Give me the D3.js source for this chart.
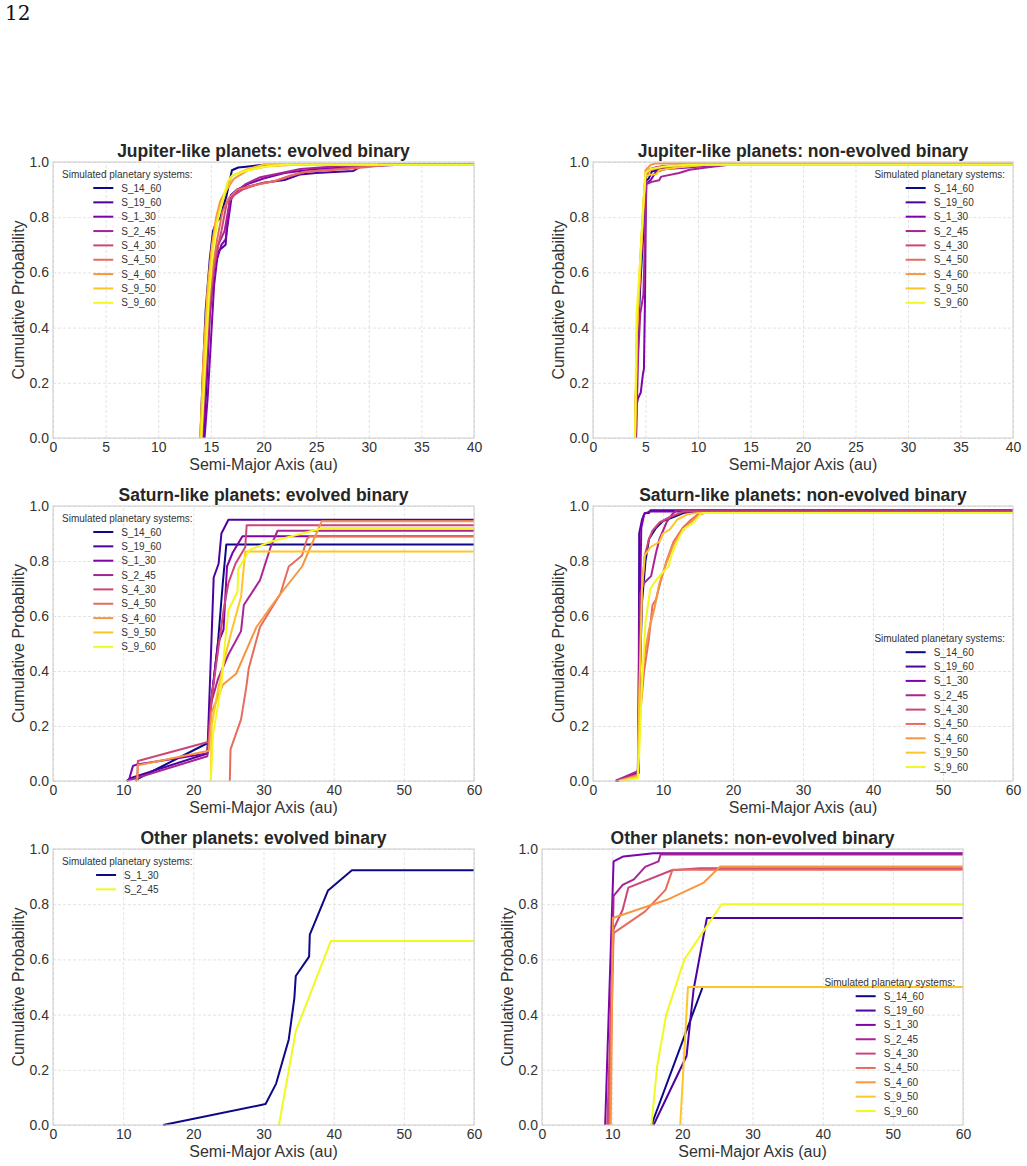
<!DOCTYPE html>
<html>
<head>
<meta charset="utf-8">
<style>
  body { margin: 0; background: #fff; }
  svg { display: block; font-family: 'Liberation Sans', Arial, sans-serif; }
  .tick text { font-size: 14px; fill: #333; }
  .grid .tick line { stroke: #dcdcdc; stroke-width: 0.8; stroke-dasharray: 3,2; }
  .title { font-size: 17.5px; font-weight: bold; fill: #262626; }
  .axis-label { font-size: 16px; fill: #333; }
  .legend text { font-size: 10px; fill: #333; }
  .pagenum { font-family: 'DejaVu Serif', 'Liberation Serif', serif; font-size: 20px; fill: #111; }
</style>
<title>Cumulative semi-major axis distributions</title>
</head>
<body>
<svg width="1027" height="1166"></svg>
<script src="https://cdnjs.cloudflare.com/ajax/libs/d3/7.8.5/d3.min.js"></script>
<script>
// simulated systems (legend order)
let systems = ["S_14_60", "S_19_60", "S_1_30", "S_2_45", "S_4_30", "S_4_50", "S_4_60", "S_9_50", "S_9_60"];
let otherEvolvedSystems = ["S_1_30", "S_2_45"];

let xTicks40 = [0, 5, 10, 15, 20, 25, 30, 35, 40];
let xTicks60 = [0, 10, 20, 30, 40, 50, 60];
let yTicks = [0, 0.2, 0.4, 0.6, 0.8, 1.0];

// [semi-major axis (au), cumulative probability], one list per system
let jupiterEvolved = [
  [[14.0,0],[14.2,0.2],[14.5,0.46],[14.9,0.65],[15.2,0.75],[15.5,0.78],[15.9,0.8],[16.5,0.88],[17.0,0.97],[17.6,0.98],[18.8,0.985],[20,0.99],[40,0.99]],
  [[14.3,0],[14.6,0.2],[14.9,0.45],[15.3,0.62],[15.8,0.68],[16.4,0.7],[16.6,0.8],[16.9,0.88],[17.5,0.9],[18.5,0.91],[20,0.925],[22,0.935],[23.5,0.955],[25,0.96],[28.5,0.967],[29.3,0.985],[31,0.99],[40,0.99]],
  [[14.4,0],[14.7,0.15],[15.0,0.35],[15.3,0.55],[15.6,0.65],[16.0,0.7],[16.4,0.72],[16.7,0.8],[17.0,0.88],[17.5,0.9],[18.5,0.92],[20,0.94],[22,0.96],[25,0.975],[30,0.985],[33,0.99],[40,0.99]],
  [[14.2,0],[14.5,0.2],[14.9,0.45],[15.3,0.62],[15.7,0.7],[16.3,0.75],[16.8,0.86],[17.4,0.89],[17.7,0.9],[18.3,0.92],[19.7,0.945],[21.7,0.96],[23.5,0.975],[27,0.985],[32,0.99],[40,0.99]],
  [[14.1,0],[14.4,0.2],[14.8,0.45],[15.2,0.6],[15.6,0.68],[16.0,0.75],[16.5,0.85],[17.2,0.88],[18.0,0.9],[19.5,0.92],[21,0.93],[23,0.955],[24,0.965],[27,0.975],[31,0.99],[40,0.99]],
  [[14.1,0],[14.4,0.25],[14.8,0.48],[15.2,0.62],[15.6,0.72],[16.1,0.82],[16.7,0.87],[17.5,0.9],[19,0.915],[21,0.93],[22.5,0.95],[24,0.965],[28,0.975],[32,0.99],[40,0.99]],
  [[14.0,0],[14.3,0.3],[14.7,0.55],[15.1,0.7],[15.5,0.8],[15.9,0.86],[16.5,0.9],[17.2,0.94],[18.5,0.97],[20.5,0.985],[23,0.99],[40,0.99]],
  [[14.0,0],[14.3,0.25],[14.7,0.52],[15.1,0.68],[15.5,0.78],[16.0,0.85],[16.5,0.9],[17.0,0.95],[18.5,0.975],[20,0.99],[40,0.99]],
  [[14.1,0],[14.4,0.22],[14.8,0.5],[15.2,0.68],[15.6,0.78],[16.1,0.86],[16.6,0.93],[17.0,0.95],[18.5,0.97],[20.5,0.985],[22,0.99],[40,0.99]]
];

let jupiterNonEvolved = [
  [[4.0,0],[4.2,0.3],[4.5,0.55],[4.8,0.75],[5.0,0.93],[5.3,0.94],[5.6,0.965],[6.5,0.975],[8,0.985],[10,0.99],[40,0.99]],
  [[4.0,0],[4.2,0.35],[4.5,0.6],[4.8,0.8],[5.0,0.94],[5.3,0.97],[6,0.98],[8,0.985],[10,0.99],[40,0.99]],
  [[4.1,0],[4.15,0.12],[4.3,0.145],[4.55,0.165],[4.75,0.23],[4.85,0.25],[4.95,0.5],[5.05,0.92],[5.5,0.935],[6.0,0.965],[7,0.975],[9,0.98],[12,0.99],[40,0.99]],
  [[4.1,0],[4.3,0.3],[4.5,0.45],[4.8,0.52],[5.0,0.8],[5.1,0.92],[5.6,0.928],[6.3,0.934],[6.5,0.947],[8.2,0.96],[9.2,0.972],[10.8,0.98],[13,0.99],[40,0.99]],
  [[4.0,0],[4.2,0.4],[4.5,0.62],[4.8,0.82],[5.0,0.95],[5.4,0.975],[6.5,0.985],[9,0.99],[40,0.99]],
  [[4.0,0],[4.2,0.38],[4.5,0.6],[4.8,0.82],[5.0,0.95],[5.4,0.97],[6.5,0.98],[9,0.99],[40,0.99]],
  [[4.0,0],[4.2,0.4],[4.5,0.65],[4.8,0.85],[5.0,0.97],[5.5,0.99],[6,0.995],[40,0.995]],
  [[4.0,0],[4.2,0.4],[4.5,0.63],[4.8,0.85],[5.0,0.95],[5.5,0.955],[6.0,0.955],[6.3,0.97],[8,0.98],[11,0.99],[40,0.99]],
  [[4.0,0],[4.15,0.45],[4.5,0.65],[4.8,0.85],[5.0,0.96],[5.5,0.975],[7,0.985],[9,0.99],[40,0.99]]
];

let saturnEvolved = [
  [[11.8,0],[12.2,0.01],[22.2,0.14],[22.6,0.3],[23.5,0.5],[24.2,0.72],[24.7,0.86],[60,0.86]],
  [[10.5,0],[11.0,0.01],[22.0,0.1],[22.5,0.45],[22.9,0.74],[23.6,0.79],[24.0,0.9],[25.0,0.95],[60,0.95]],
  [[10.8,0],[11.0,0.02],[11.4,0.055],[12.0,0.06],[22.0,0.1],[22.5,0.28],[23.5,0.5],[24.3,0.55],[24.8,0.78],[25.6,0.83],[27.0,0.89],[60,0.89]],
  [[10.5,0],[22.0,0.09],[22.5,0.28],[23.5,0.37],[25.0,0.46],[26.8,0.545],[27.2,0.64],[29.5,0.73],[31.0,0.85],[32.0,0.91],[60,0.91]],
  [[12.0,0],[12.1,0.073],[22.2,0.143],[22.6,0.3],[24.3,0.62],[25.0,0.72],[26.0,0.79],[27.4,0.85],[27.6,0.93],[60,0.93]],
  [[25.2,0],[25.3,0.115],[26.8,0.224],[27.5,0.333],[27.9,0.41],[29.5,0.56],[32.4,0.68],[33.6,0.78],[35.5,0.82],[36.2,0.88],[36.6,0.89],[60,0.89]],
  [[12.0,0],[12.1,0.057],[22.2,0.11],[22.6,0.25],[24.2,0.35],[26.1,0.39],[29.0,0.56],[32.1,0.67],[35.5,0.78],[38.3,0.945],[60,0.945]],
  [[22.5,0],[22.6,0.2],[23.5,0.33],[24.5,0.45],[25.5,0.55],[26.8,0.67],[27.4,0.835],[60,0.835]],
  [[22.5,0],[22.8,0.17],[24.0,0.35],[24.5,0.5],[25.0,0.62],[26.3,0.69],[26.4,0.77],[28.0,0.84],[31,0.87],[38.5,0.92],[60,0.92]]
];

let saturnNonEvolved = [
  [[3.5,0],[6.3,0.02],[6.5,0.03],[6.6,0.3],[7.0,0.65],[7.5,0.8],[8.0,0.88],[9.0,0.92],[10,0.945],[11.5,0.96],[13,0.975],[15,0.98],[60,0.98]],
  [[3.3,0],[6.3,0.02],[6.5,0.03],[6.6,0.9],[7.0,0.95],[7.4,0.975],[8.0,0.975],[8.2,0.985],[60,0.985]],
  [[3.3,0],[6.4,0.03],[6.6,0.5],[6.9,0.92],[7.3,0.97],[8,0.98],[60,0.98]],
  [[3.2,0],[6.3,0.035],[6.5,0.04],[6.7,0.68],[7.3,0.72],[8.3,0.745],[9.0,0.83],[9.5,0.88],[10.5,0.94],[11.3,0.97],[12,0.985],[60,0.985]],
  [[3.5,0],[6.4,0.025],[6.6,0.3],[7.0,0.7],[7.4,0.82],[8.0,0.88],[8.5,0.91],[9.5,0.94],[11,0.96],[13,0.98],[60,0.98]],
  [[3.7,0],[6.4,0.02],[6.6,0.2],[7.3,0.4],[8.0,0.52],[8.5,0.64],[9.0,0.66],[9.6,0.72],[10.5,0.8],[11.5,0.87],[12.8,0.92],[14,0.95],[15.3,0.975],[60,0.975]],
  [[3.7,0],[6.4,0.02],[6.6,0.25],[7.3,0.45],[8.0,0.55],[8.8,0.63],[9.5,0.72],[10.3,0.78],[11.5,0.86],[12.5,0.9],[13.5,0.93],[15,0.965],[16,0.975],[60,0.975]],
  [[3.7,0],[6.4,0.015],[6.6,0.3],[7.0,0.7],[7.4,0.82],[8.2,0.85],[9.5,0.87],[10,0.9],[11,0.915],[12,0.95],[13.5,0.97],[15,0.975],[60,0.975]],
  [[3.8,0],[6.4,0.01],[6.6,0.1],[7.0,0.35],[7.5,0.58],[8.2,0.7],[9.0,0.73],[10.0,0.76],[10.8,0.78],[11.2,0.82],[12.0,0.87],[12.9,0.915],[14.4,0.94],[15.5,0.975],[60,0.975]]
];

let otherEvolved = [
  [[15.7,0],[30.3,0.076],[31.8,0.15],[32.7,0.23],[33.6,0.31],[34.4,0.46],[34.6,0.54],[36.5,0.61],[36.6,0.69],[39.2,0.85],[42.6,0.923],[60,0.923]],
  [[32.2,0],[34.6,0.34],[39.6,0.667],[60,0.667]]
];

let otherNonEvolved = [
  [[15.6,0],[22.9,0.5],[60,0.5]],
  [[15.9,0],[20.6,0.25],[21.6,0.49],[23.5,0.75],[60,0.75]],
  [[9.0,0],[10.2,0.955],[11.6,0.973],[15.9,0.985],[60,0.985]],
  [[9.5,0],[10.2,0.83],[11.5,0.87],[13.1,0.89],[14.7,0.935],[16.6,0.955],[16.9,0.98],[60,0.98]],
  [[9.3,0],[10.2,0.71],[11.5,0.78],[12.3,0.86],[18.5,0.923],[22.5,0.93],[60,0.93]],
  [[9.6,0],[10.2,0.695],[14.7,0.774],[17.6,0.852],[18.6,0.925],[60,0.925]],
  [[9.8,0],[10.1,0.75],[17.8,0.816],[23.0,0.877],[25.4,0.937],[60,0.937]],
  [[19.7,0],[20.8,0.5],[60,0.5]],
  [[15.6,0],[16.4,0.21],[17.7,0.4],[20.3,0.6],[25.6,0.8],[60,0.8]]
];

let panels = [
  { title: "Jupiter-like planets: evolved binary", data: jupiterEvolved, names: systems, left: 53, top: 162, w: 421, h: 276, xmax: 40, xt: xTicks40, legend: "upper left" },
  { title: "Jupiter-like planets: non-evolved binary", data: jupiterNonEvolved, names: systems, left: 593, top: 162, w: 420, h: 276, xmax: 40, xt: xTicks40, legend: "upper right" },
  { title: "Saturn-like planets: evolved binary", data: saturnEvolved, names: systems, left: 53, top: 506, w: 421, h: 275, xmax: 60, xt: xTicks60, legend: "upper left" },
  { title: "Saturn-like planets: non-evolved binary", data: saturnNonEvolved, names: systems, left: 593, top: 506, w: 420, h: 275, xmax: 60, xt: xTicks60, legend: "lower right" },
  { title: "Other planets: evolved binary", data: otherEvolved, names: otherEvolvedSystems, left: 53, top: 849, w: 421, h: 276, xmax: 60, xt: xTicks60, legend: "upper left" },
  { title: "Other planets: non-evolved binary", data: otherNonEvolved, names: systems, left: 542, top: 849, w: 421, h: 276, xmax: 60, xt: xTicks60, legend: "lower right" }
];

let svg = d3.select("svg");

svg.append("text")
  .attr("class", "pagenum")
  .attr("x", 5)
  .attr("y", 20)
  .text("12");

panels.forEach((p, pi) => {
  let g = svg.append("g").attr("transform", `translate(${p.left},${p.top})`);

  let x = d3.scaleLinear().domain([0, p.xmax]).range([0, p.w]);
  let y = d3.scaleLinear().domain([0, 1]).range([p.h, 0]);
  let n = p.names.length;
  let color = i => d3.interpolatePlasma(n > 1 ? i / (n - 1) : 0);

  // grid
  g.append("g")
    .attr("class", "grid")
    .attr("transform", `translate(0,${p.h})`)
    .call(d3.axisBottom(x).tickValues(p.xt).tickSize(-p.h).tickFormat(""))
    .call(a => a.select(".domain").remove());
  g.append("g")
    .attr("class", "grid")
    .call(d3.axisLeft(y).tickValues(yTicks).tickSize(-p.w).tickFormat(""))
    .call(a => a.select(".domain").remove());

  // tick labels
  g.append("g")
    .attr("class", "x axis")
    .attr("transform", `translate(0,${p.h})`)
    .call(d3.axisBottom(x).tickValues(p.xt).tickSize(0).tickPadding(4).tickFormat(d3.format("d")))
    .call(a => a.select(".domain").remove());
  g.append("g")
    .attr("class", "y axis")
    .call(d3.axisLeft(y).tickValues(yTicks).tickSize(0).tickPadding(4).tickFormat(d3.format(".1f")))
    .call(a => a.select(".domain").remove());
  g.selectAll(".axis").attr("font-family", null).attr("font-size", null);

  // lines
  let clipId = "clip" + pi;
  g.append("clipPath").attr("id", clipId)
    .append("rect").attr("x", -1).attr("y", -2).attr("width", p.w + 2).attr("height", p.h + 3);

  let line = d3.line().x(d => x(d[0])).y(d => y(d[1]));
  g.append("g")
    .attr("clip-path", `url(#${clipId})`)
    .selectAll("path")
    .data(p.data)
    .join("path")
    .attr("fill", "none")
    .attr("stroke", (d, i) => color(i))
    .attr("stroke-width", 2)
    .attr("stroke-linejoin", "round")
    .attr("d", line);

  // frame
  g.append("rect")
    .attr("width", p.w).attr("height", p.h)
    .attr("fill", "none").attr("stroke", "#cccccc").attr("stroke-width", 1);

  // titles & labels
  g.append("text")
    .attr("class", "title")
    .attr("x", p.w / 2).attr("y", -5)
    .attr("text-anchor", "middle")
    .text(p.title);
  g.append("text")
    .attr("class", "axis-label")
    .attr("x", p.w / 2).attr("y", p.h + 32)
    .attr("text-anchor", "middle")
    .text("Semi-Major Axis (au)");
  g.append("text")
    .attr("class", "axis-label")
    .attr("transform", `translate(-29,${p.h / 2}) rotate(-90)`)
    .attr("text-anchor", "middle")
    .text("Cumulative Probability");

  // legend
  let rowH = 14.35;
  let lg = g.append("g").attr("class", "legend");
  let titleY, titleCx;
  let title = lg.append("text").text("Simulated planetary systems:");
  let titleW = title.node().getComputedTextLength();
  if (p.legend === "upper left") {
    titleY = 16;
    titleCx = 9 + titleW / 2;
  } else if (p.legend === "upper right") {
    titleY = 16;
    titleCx = p.w - 8 - titleW / 2;
  } else {
    titleY = p.h - 14 - 10 - (n - 1) * rowH;
    titleCx = p.w - 8 - titleW / 2;
  }
  title.attr("x", titleCx).attr("y", titleY).attr("text-anchor", "middle");

  let rowY = i => titleY + 10 + i * rowH;
  let labels = lg.selectAll(".entry")
    .data(p.names)
    .join("g")
    .attr("class", "entry");
  labels.append("text")
    .attr("y", (d, i) => rowY(i) + 3.5)
    .text(d => d);
  let maxW = d3.max(labels.selectAll("text").nodes(), t => t.getComputedTextLength());
  let blockW = 20 + 8 + maxW;
  let x0 = titleCx - blockW / 2;
  labels.select("text").attr("x", x0 + 28);
  labels.append("line")
    .attr("x1", x0).attr("x2", x0 + 20)
    .attr("y1", (d, i) => rowY(i))
    .attr("y2", (d, i) => rowY(i))
    .attr("stroke", (d, i) => color(i))
    .attr("stroke-width", 2);
});
</script>
</body>
</html>
